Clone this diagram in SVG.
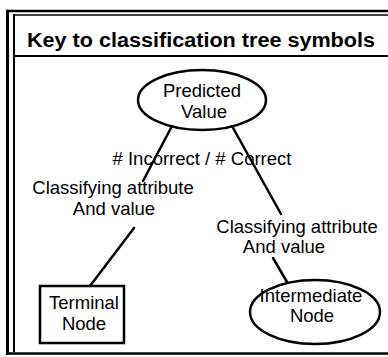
<svg xmlns="http://www.w3.org/2000/svg" width="388" height="357" viewBox="0 0 388 357">
<style>
.t{font-family:"Liberation Sans",Arial,sans-serif;font-size:18.5px;fill:#000;text-anchor:middle}
.title{font-family:"Liberation Sans",Arial,sans-serif;font-size:20px;font-weight:bold;fill:#000}
.shape{fill:none;stroke:#000;stroke-width:2.5}
.frame{fill:none;stroke:#000}
.conn line{stroke:#000;stroke-width:2.5;stroke-linecap:round}
</style>
<rect width="388" height="357" fill="#fff"/>
<g id="frame">
<line class="frame" x1="7.5" y1="10" x2="7.5" y2="355" stroke-width="3"/>
<line class="frame" x1="14" y1="14" x2="14" y2="352" stroke-width="2"/>
<line class="frame" x1="6" y1="11" x2="388" y2="11" stroke-width="2.5"/>
<line class="frame" x1="13" y1="15" x2="388" y2="15" stroke-width="1.5"/>
<line class="frame" x1="13" y1="56" x2="388" y2="56" stroke-width="2"/>
<line class="frame" x1="6" y1="353.5" x2="388" y2="353.5" stroke-width="2.5"/>
<text class="title" x="27" y="47" textLength="348" lengthAdjust="spacingAndGlyphs">Key to classification tree symbols</text>
</g>
<g class="conn" id="connectors">
<line x1="172" y1="126" x2="143" y2="181"/>
<line x1="232" y1="126" x2="281" y2="214"/>
<line x1="134" y1="228" x2="90" y2="286"/>
<line x1="273" y1="258" x2="287" y2="282"/>
</g>
<g id="predicted">
<ellipse class="shape" cx="202" cy="100" rx="64" ry="30"/>
<text class="t" x="202" y="97">Predicted</text>
<text class="t" x="204" y="118">Value</text>
</g>
<text class="t" x="202" y="165">#  Incorrect / # Correct</text>
<text class="t" x="113" y="194">Classifying attribute</text>
<text class="t" x="114" y="215">And value</text>
<text class="t" x="297" y="233">Classifying attribute</text>
<text class="t" x="284" y="253">And value</text>
<g id="terminal">
<rect class="shape" x="40" y="286" width="84" height="57"/>
<text class="t" x="84" y="309">Terminal</text>
<text class="t" x="84" y="330">Node</text>
</g>
<g id="intermediate">
<ellipse class="shape" cx="315" cy="312" rx="65" ry="32"/>
<text class="t" x="311" y="302">Intermediate</text>
<text class="t" x="312" y="322">Node</text>
</g>
</svg>
